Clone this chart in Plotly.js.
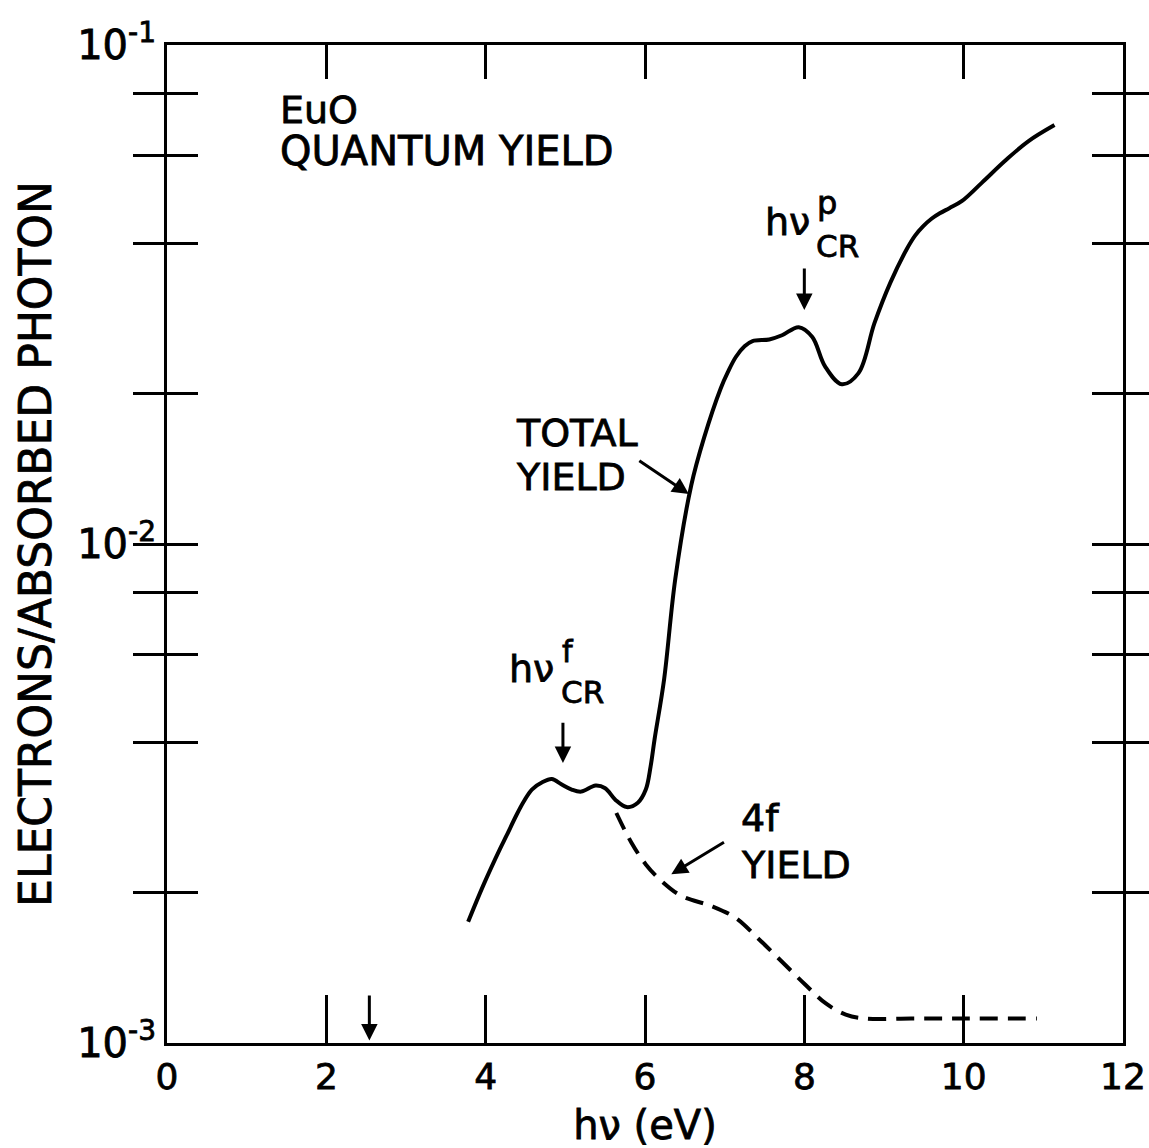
<!DOCTYPE html>
<html>
<head>
<meta charset="utf-8">
<script src="https://cdn.plot.ly/plotly-3.0.1.min.js"></script>
<style>
  html, body { margin: 0; padding: 0; background: #ffffff; }
  #chart { width: 1149px; height: 1148px; }
  /* slightly heavier lettering */
  #chart svg text { stroke: #000000; stroke-width: 0.8px; }
</style>
</head>
<body>
<div id="chart"></div>
<script>
// Photon energy (eV) and total photoelectric yield of EuO (electrons per absorbed photon)
const energyTotal = [3.78, 3.97, 4.18, 4.26, 4.39, 4.48, 4.58, 4.71, 4.83, 4.95, 5.08, 5.20, 5.38, 5.50,
  5.63, 5.77, 5.91, 6.01, 6.07, 6.12, 6.24, 6.38, 6.58, 6.74, 6.95, 7.04, 7.14, 7.25, 7.35, 7.56, 7.72,
  7.93, 8.10, 8.26, 8.47, 8.68, 8.88, 9.08, 9.29, 9.39, 9.49, 9.60, 9.70, 9.82, 9.98, 10.23, 10.52,
  10.81, 11.14];
const yieldTotal = [1.75e-3, 2.07e-3, 2.45e-3, 2.60e-3, 2.87e-3, 3.05e-3, 3.22e-3, 3.33e-3, 3.38e-3,
  3.30e-3, 3.22e-3, 3.19e-3, 3.28e-3, 3.24e-3, 3.07e-3, 2.97e-3, 3.03e-3, 3.22e-3, 3.58e-3, 4.06e-3,
  5.36e-3, 8.51e-3, 1.31e-2, 1.63e-2, 2.05e-2, 2.21e-2, 2.37e-2, 2.49e-2, 2.55e-2, 2.57e-2, 2.62e-2,
  2.72e-2, 2.60e-2, 2.27e-2, 2.09e-2, 2.20e-2, 2.77e-2, 3.34e-2, 3.91e-2, 4.15e-2, 4.33e-2, 4.49e-2,
  4.60e-2, 4.71e-2, 4.87e-2, 5.30e-2, 5.86e-2, 6.41e-2, 6.91e-2];

// 4f contribution to the yield
const energy4f = [5.64, 5.83, 6.01, 6.21, 6.46, 6.84, 7.14, 7.42, 7.71, 8.01, 8.27, 8.52, 8.76, 9.34, 9.96, 10.92];
const yield4f = [2.89e-3, 2.52e-3, 2.28e-3, 2.11e-3, 1.97e-3, 1.88e-3, 1.78e-3, 1.62e-3, 1.46e-3,
  1.31e-3, 1.20e-3, 1.14e-3, 1.12e-3, 1.12e-3, 1.12e-3, 1.12e-3];

// Axis ticks
const xTickVals = [0, 2, 4, 6, 8, 10, 12];
const xTickText = ['0', '2', '4', '6', '8', '10', '12'];
const xTopTickVals = [2, 4, 6, 8, 10];
const yTickVals = [1e-3, 2e-3, 4e-3, 6e-3, 8e-3, 1e-2, 2e-2, 4e-2, 6e-2, 8e-2, 1e-1];
const yTickText = ['10<sup>-3</sup>', '', '', '', '', '10<sup>-2</sup>', '', '', '', '', '10<sup>-1</sup>'];

// Marked energies (eV)
const critEnergyF = 4.97;
const critEnergyP = 8.0;
const markEnergy = 2.54;

const FONT = 'DejaVu Sans, Liberation Sans, sans-serif';
const INK = '#000000';

const traces = [
  {
    x: energyTotal, y: yieldTotal, type: 'scatter', mode: 'lines',
    line: { color: INK, width: 4, shape: 'spline', smoothing: 1.0 },
    hoverinfo: 'skip', showlegend: false
  },
  {
    x: energy4f, y: yield4f, type: 'scatter', mode: 'lines',
    line: { color: INK, width: 4, shape: 'spline', smoothing: 1.0, dash: '18px,10px' },
    hoverinfo: 'skip', showlegend: false
  },
  {
    // carries the top tick set
    x: [], y: [], xaxis: 'x2', yaxis: 'y', type: 'scatter', mode: 'lines',
    hoverinfo: 'skip', showlegend: false
  }
];

const log = Math.log10;

function label(text, x, y, size, xanchor) {
  return {
    text: text, xref: 'paper', yref: 'paper', x: x, y: y,
    xanchor: xanchor || 'left', yanchor: 'middle', showarrow: false,
    font: { family: FONT, size: size, color: INK }
  };
}

function arrow(xTail, yTail, xTip, yTip) {
  return {
    text: '', xref: 'x', yref: 'y', axref: 'x', ayref: 'y',
    x: xTip, y: log(yTip), ax: xTail, ay: log(yTail),
    showarrow: true, arrowhead: 2, arrowsize: 1.1, arrowwidth: 3,
    arrowcolor: INK, standoff: 0, startstandoff: 0
  };
}

const annotations = [
  label('EuO', 0.116, 0.935, 38),
  label('QUANTUM YIELD', 0.116, 0.894, 40),
  label('TOTAL', 0.363, 0.611, 38),
  label('YIELD', 0.363, 0.567, 38),
  label('4f', 0.598, 0.225, 38),
  label('YIELD', 0.598, 0.178, 38),
  label('hν', 0.407, 0.375, 38, 'right'),
  label('f', 0.411, 0.392, 30),
  label('CR', 0.410, 0.352, 31),
  label('hν', 0.675, 0.823, 38, 'right'),
  label('p', 0.678, 0.842, 32),
  label('CR', 0.677, 0.799, 31),
  arrow(5.91, 0.01476, 6.55, 0.01259),
  arrow(critEnergyF, 0.004416, critEnergyF, 0.003639),
  arrow(critEnergyP, 0.03589, critEnergyP, 0.02944),
  arrow(7.01, 0.002535, 6.33, 0.002178),
  arrow(markEnergy, 0.001253, markEnergy, 0.001012)
];

const layout = {
  width: 1149, height: 1148,
  paper_bgcolor: '#ffffff', plot_bgcolor: '#ffffff',
  margin: { l: 167, r: 26, t: 45, b: 105 },
  font: { family: FONT, color: INK },
  xaxis: {
    range: [0, 12], tickmode: 'array', tickvals: xTickVals, ticktext: xTickText,
    ticks: 'inside', ticklen: 48, tickwidth: 3, tickcolor: INK,
    showline: true, linewidth: 3, linecolor: INK, mirror: true,
    showgrid: false, zeroline: false, ticklabeloverflow: 'allow',
    tickfont: { family: FONT, size: 36, color: INK },
    title: { text: 'hν (eV)', font: { family: FONT, size: 40, color: INK }, standoff: 20 }
  },
  xaxis2: {
    overlaying: 'x', side: 'top', range: [0, 12], matches: 'x',
    tickmode: 'array', tickvals: xTopTickVals,
    ticks: 'inside', ticklen: 34, tickwidth: 3, tickcolor: INK,
    showticklabels: false, showline: false, showgrid: false, zeroline: false
  },
  yaxis: {
    type: 'log', range: [-3, -1], tickmode: 'array', tickvals: yTickVals, ticktext: yTickText,
    ticks: 'inside', ticklen: 31, tickwidth: 3, tickcolor: INK,
    showline: true, linewidth: 3, linecolor: INK, mirror: 'allticks',
    showgrid: false, zeroline: false,
    tickfont: { family: FONT, size: 40, color: INK },
    title: { text: 'ELECTRONS/ABSORBED PHOTON', font: { family: FONT, size: 44, color: INK }, standoff: 12 }
  },
  annotations: annotations
};

Plotly.newPlot('chart', traces, layout, { staticPlot: true, displayModeBar: false });
</script>
</body>
</html>
